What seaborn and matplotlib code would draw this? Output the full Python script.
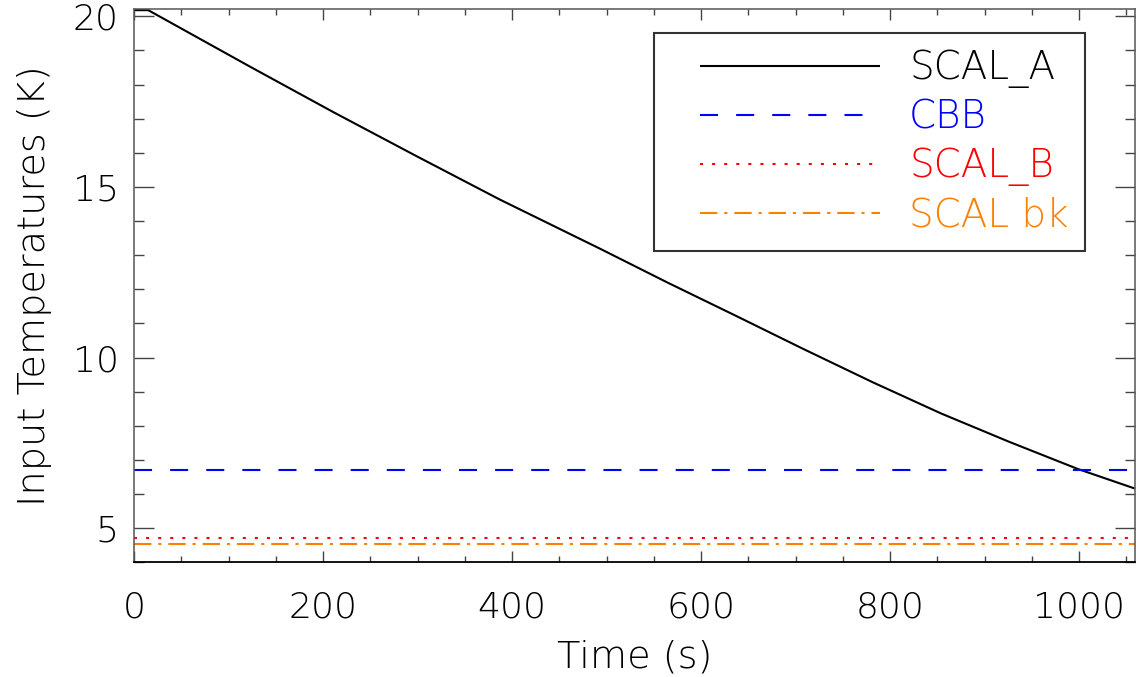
import matplotlib
matplotlib.use("Agg")
import matplotlib.pyplot as plt
import seaborn as sns
import pandas as pd
import numpy as np
from matplotlib.ticker import MultipleLocator
from matplotlib.lines import Line2D
from matplotlib.legend_handler import HandlerLine2D

# ---- data ----
time_a = [0, 15, 123, 211, 299, 387, 493, 565, 637, 709, 782, 854, 926, 998, 1059]
scal_a = [20.18, 20.18, 18.52, 17.19, 15.9, 14.63, 13.19, 12.19, 11.22, 10.24, 9.27,
          8.36, 7.53, 6.74, 6.16]
time_const = [0, 1059]
cbb = [6.71, 6.71]
scal_b = [4.71, 4.71]
scal_bk = [4.53, 4.53]

series_names = ["SCAL_A", "CBB", "SCAL_B", "SCAL bk"]
series_colors = ["black", "#0000ff", "#ff0000", "#ff8000"]

sns.set_theme(style="white")
plt.rcParams['font.family'] = ['DejaVu Sans']
plt.rcParams['font.weight'] = 200
plt.rcParams['axes.labelweight'] = 200

fig = plt.figure(figsize=(11.36, 6.77), dpi=100)
ax = fig.add_axes([0.118, 0.1695, 0.881, 0.8165])

lw = 1.5
sns.lineplot(x=time_a, y=scal_a, ax=ax, color=series_colors[0], lw=lw,
             label=series_names[0], estimator=None, sort=False)
sns.lineplot(x=time_const, y=cbb, ax=ax, color=series_colors[1], lw=lw,
             label=series_names[1], estimator=None)
sns.lineplot(x=time_const, y=scal_b, ax=ax, color=series_colors[2], lw=lw,
             label=series_names[2], estimator=None)
sns.lineplot(x=time_const, y=scal_bk, ax=ax, color=series_colors[3], lw=lw,
             label=series_names[3], estimator=None)

lines = ax.get_lines()
lines[1].set_dashes([13 / lw, 13 / lw])
lines[2].set_dashes([2.2 / lw, 6.5 / lw])
lines[3].set_dashes([12.5 / lw, 5 / lw, 2.2 / lw, 5 / lw])
for ln in lines:
    ln.set_solid_capstyle('butt')
    ln.set_dash_capstyle('butt')

ax.set_xlim(0, 1059)
ax.set_ylim(4.0, 20.2)
ax.xaxis.set_major_locator(MultipleLocator(200))
ax.xaxis.set_minor_locator(MultipleLocator(50))
ax.yaxis.set_major_locator(MultipleLocator(5))
ax.yaxis.set_minor_locator(MultipleLocator(1))

fs = 26
tick_c = '#444444'
ax.tick_params(axis='x', which='major', direction='in', length=8, width=1,
               top=True, bottom=True, labelsize=fs, pad=20, color=tick_c,
               labelcolor='black')
ax.tick_params(axis='x', which='minor', direction='in', length=4.3, width=1,
               top=True, bottom=True, color=tick_c)
ax.tick_params(axis='y', which='major', direction='in', length=14.4, width=1,
               left=True, right=True, labelsize=fs, pad=11, color=tick_c,
               labelcolor='black')
ax.tick_params(axis='y', which='minor', direction='in', length=7.2, width=1,
               left=True, right=True, color=tick_c)
for s in ax.spines.values():
    s.set_color('#555555')
    s.set_linewidth(1.1)
ax.spines['bottom'].set_color('black')
ax.spines['bottom'].set_linewidth(1.3)

ax.set_xlabel("Time (s)", fontsize=27.5, labelpad=11, color='black')
ax.set_ylabel("Input Temperatures (K)", fontsize=27.5, labelpad=15, color='black')

lfs = 28
leg = ax.legend(loc='upper left', bbox_to_anchor=(654 / 1136, 1 - 33 / 677),
                bbox_transform=fig.transFigure, fontsize=lfs, frameon=True,
                fancybox=False, handlelength=5.39, handletextpad=0.75,
                borderpad=0.42, labelspacing=0.27, borderaxespad=0,
                handler_map={Line2D: HandlerLine2D(xpad=0.76)})
leg.get_frame().set_edgecolor('black')
leg.get_frame().set_linewidth(1.5)
for txt, c in zip(leg.get_texts(), series_colors):
    txt.set_color(c)

fig.savefig("out.png", dpi=100)
